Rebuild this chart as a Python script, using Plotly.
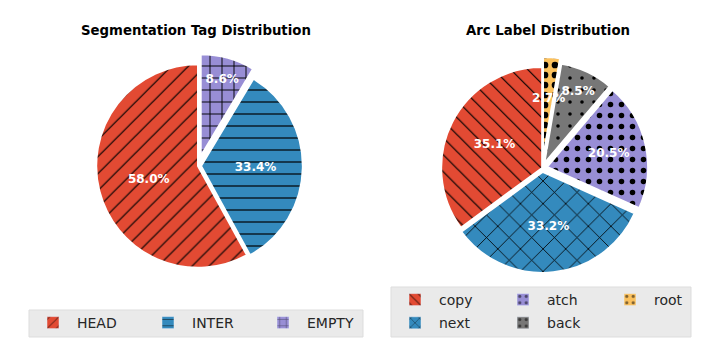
import math
import plotly.graph_objects as go

# ---- data ----
seg_labels = ["HEAD", "INTER", "EMPTY"]
seg_values = [58.0, 33.4, 8.6]
seg_colors = ["#E24A33", "#348ABD", "#988ED5"]
seg_hatch = ["/", "-", "+"]
seg_pull = [0.0, 0.03, 0.1]

arc_labels = ["copy", "next", "atch", "back", "root"]
arc_values = [35.1, 33.2, 20.5, 8.5, 2.7]
arc_colors = ["#E24A33", "#348ABD", "#988ED5", "#777777", "#FBC15E"]
arc_hatch = ["\\", "x", ".", ".", "."]
arc_pull = [0.0, 0.04, 0.05, 0.05, 0.1]

FONT = "DejaVu Sans"
W, H = 720, 360

def rev(a):
    return list(a)[::-1]

# pie placement (paper fractions)
seg_dom = dict(x=[0.119, 0.431], y=[0.228, 0.850])
arc_dom = dict(x=[0.598, 0.908], y=[0.225, 0.842])

fig = go.Figure()

# slices drawn counter-clockwise from 12 o'clock == reversed order drawn clockwise
fig.add_trace(go.Pie(
    labels=rev(seg_labels), values=rev(seg_values), sort=False, direction="clockwise", rotation=0,
    pull=rev(seg_pull), showlegend=False,
    marker=dict(colors=rev(seg_colors), line=dict(color="white", width=2),
                pattern=dict(shape=rev(seg_hatch), fgcolor="black", bgcolor=rev(seg_colors), fillmode="replace",
                             size=12, solidity=rev([0.1, 0.1, 0.15]))),
    texttemplate="%{percent:.1%}", textposition="inside", insidetextorientation="horizontal",
    textfont=dict(family=FONT, size=12, color="white", weight="bold"),
    domain=seg_dom,
))

# the thinnest slice (root) cannot hold its label inside; it is placed as an annotation below
arc_tt = ["%{percent:.1%}" if v / sum(arc_values) > 0.05 else "" for v in arc_values]
fig.add_trace(go.Pie(
    labels=rev(arc_labels), values=rev(arc_values), sort=False, direction="clockwise", rotation=0,
    pull=rev(arc_pull), showlegend=False,
    marker=dict(colors=rev(arc_colors), line=dict(color="white", width=2),
                pattern=dict(shape=rev(arc_hatch), fgcolor="black", bgcolor=rev(arc_colors), fillmode="replace",
                             size=rev([12, 16, 11, 12, 10]), solidity=rev([0.1, 0.1, 0.2, 0.07, 0.35]))),
    texttemplate=rev(arc_tt), textposition="inside", insidetextorientation="horizontal",
    textfont=dict(family=FONT, size=12, color="white", weight="bold"),
    domain=arc_dom,
))

# label for small slices at 0.6 radius (+pull) along the slice bisector
annots = []
cx = (arc_dom["x"][0] + arc_dom["x"][1]) / 2 * W
cy = (arc_dom["y"][0] + arc_dom["y"][1]) / 2 * H
R = min((arc_dom["x"][1] - arc_dom["x"][0]) * W, (arc_dom["y"][1] - arc_dom["y"][0]) * H) / 2 / (1 + max(arc_pull))
tot = sum(arc_values)
start = 90.0
for lab, v, p, tt in zip(arc_labels, arc_values, arc_pull, arc_tt):
    span = v / tot * 360
    mid = math.radians(start + span / 2)
    start += span
    if tt:
        continue
    rr = (0.6 + p) * R
    annots.append(dict(text=f"<b>{v / tot * 100:.1f}%</b>", x=(cx + rr * math.cos(mid)) / W,
                       y=(cy + rr * math.sin(mid)) / H, xref="paper", yref="paper", showarrow=False,
                       font=dict(family=FONT, size=12, color="white"), xanchor="center", yanchor="middle"))

# legend entries (dummy bars carrying the same fills)
for lab, col, h in zip(seg_labels, seg_colors, seg_hatch):
    fig.add_trace(go.Bar(x=[None], y=[None], name=lab, legend="legend",
                         marker=dict(color=col, pattern=dict(shape=h, fgcolor="black", bgcolor=col,
                                                             size=8, solidity=0.15))))

arc_legend_order = [("legend2", [0, 1]), ("legend3", [2, 3]), ("legend4", [4])]
for lg, idxs in arc_legend_order:
    for i in idxs:
        fig.add_trace(go.Bar(x=[None], y=[None], name=arc_labels[i], legend=lg, legendgroup=arc_labels[i],
                             marker=dict(color=arc_colors[i],
                                         pattern=dict(shape=arc_hatch[i], fgcolor="black", bgcolor=arc_colors[i],
                                                      size=8, solidity=0.2))))

legfont = dict(family=FONT, size=14, color="#262626")
clear = "rgba(0,0,0,0)"
fig.update_layout(
    width=W, height=H,
    margin=dict(l=0, r=0, t=0, b=0),
    paper_bgcolor="white", plot_bgcolor="white",
    xaxis=dict(visible=False), yaxis=dict(visible=False),
    uniformtext=dict(minsize=12, mode="show"),
    legend=dict(orientation="h", x=29/720, xanchor="left", y=1-307/360, yanchor="top",
                bgcolor=clear, font=legfont, itemwidth=38, entrywidth=62),
    legend2=dict(x=391/720, xanchor="left", y=1-284/360, yanchor="top", bgcolor=clear,
                 font=legfont, tracegroupgap=2, itemwidth=38),
    legend3=dict(x=499/720, xanchor="left", y=1-284/360, yanchor="top", bgcolor=clear,
                 font=legfont, tracegroupgap=2, itemwidth=38),
    legend4=dict(x=606/720, xanchor="left", y=1-284/360, yanchor="top", bgcolor=clear,
                 font=legfont, tracegroupgap=2, itemwidth=38),
    shapes=[
        dict(type="rect", xref="paper", yref="paper", x0=29/720, x1=363/720, y0=1-337/360, y1=1-310/360,
             fillcolor="#EAEAEA", line=dict(color="#DDDDDD", width=1), layer="below"),
        dict(type="rect", xref="paper", yref="paper", x0=391/720, x1=691/720, y0=1-337/360, y1=1-287/360,
             fillcolor="#EAEAEA", line=dict(color="#DDDDDD", width=1), layer="below"),
    ],
    annotations=[
        dict(text="<b>Segmentation Tag Distribution</b>", x=196/720, y=1-30/360, xref="paper", yref="paper",
             showarrow=False, font=dict(family=FONT, size=13.3, color="black"), xanchor="center", yanchor="middle"),
        dict(text="<b>Arc Label Distribution</b>", x=548/720, y=1-30/360, xref="paper", yref="paper",
             showarrow=False, font=dict(family=FONT, size=13.3, color="black"), xanchor="center", yanchor="middle"),
    ] + annots,
)

fig.write_html("out.html", config={"displayModeBar": False},
               post_script="document.body.style.margin='0';")
